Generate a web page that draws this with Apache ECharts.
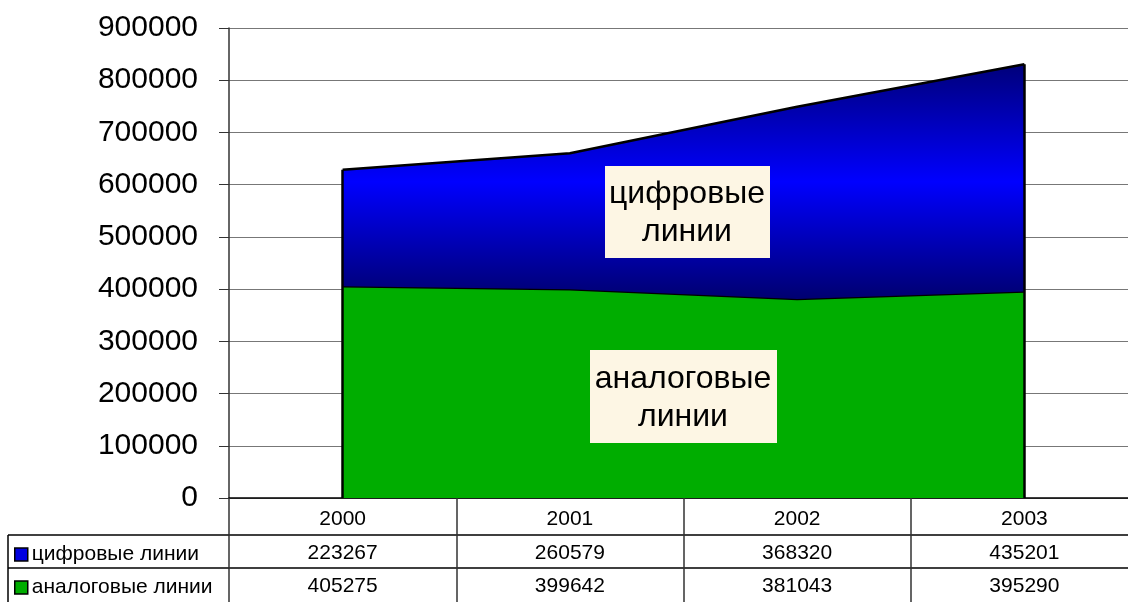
<!DOCTYPE html>
<html>
<head>
<meta charset="utf-8">
<script src="https://cdn.jsdelivr.net/npm/echarts@6/dist/echarts.min.js"></script>
<style>
html,body{margin:0;padding:0;background:#fff;}
#main{width:1128px;height:602px;}
</style>
</head>
<body>
<div id="main"></div>
<script>
const years = ['2000', '2001', '2002', '2003'];
const digital = [223267, 260579, 368320, 435201];
const analog = [405275, 399642, 381043, 395290];
const seriesNames = ['цифровые линии', 'аналоговые линии'];
const yTicks = { min: 0, max: 900000, interval: 100000 };

const FONT = '"Liberation Sans", Arial, sans-serif';
const totals = years.map((_, i) => digital[i] + analog[i]);
const first = years[0], last = years[years.length - 1];

const chart = echarts.init(document.getElementById('main'), null, { renderer: 'canvas' });

const tableAxis = (vals, offset) => ({
  type: 'category',
  data: vals.map(String),
  position: 'bottom',
  gridIndex: 0,
  offset: offset,
  boundaryGap: true,
  axisLine: { show: true, lineStyle: { color: '#000', width: 1.5 } },
  axisTick: { show: false },
  axisLabel: { color: '#000', fontSize: 21, fontFamily: FONT, margin: 8, interval: 0 },
  splitLine: { show: false }
});

const legendItem = (name, color, top) => ({
  orient: 'vertical',
  left: 9,
  top: top,
  itemWidth: 13,
  itemHeight: 13,
  data: [{ name: name, icon: 'rect', itemStyle: { color: color, borderColor: '#000', borderWidth: 1.5 } }],
  textStyle: { color: '#000', fontSize: 21, fontFamily: FONT, padding: [0, 0, 0, -1] },
  selectedMode: false
});

chart.setOption({
  backgroundColor: '#fff',
  animation: false,
  grid: { left: 229, top: 28, width: 909, height: 470, outerBoundsMode: 'none', containLabel: false },
  legend: [
    legendItem(seriesNames[0], '#0000e0', 539),
    legendItem(seriesNames[1], '#00ad00', 572)
  ],
  xAxis: [
    {
      type: 'category',
      data: years,
      boundaryGap: true,
      axisLine: { show: true, lineStyle: { color: '#000', width: 1.5 } },
      axisTick: { show: true, length: 104, interval: 0, lineStyle: { color: '#333', width: 1.5 } },
      axisLabel: { color: '#000', fontSize: 21, fontFamily: FONT, margin: 11, interval: 0 },
      splitLine: { show: false }
    },
    tableAxis(digital, 37),
    tableAxis(analog, 70)
  ],
  yAxis: {
    type: 'value',
    min: yTicks.min,
    max: yTicks.max,
    interval: yTicks.interval,
    axisLine: { show: true, lineStyle: { color: '#333', width: 1.5 } },
    axisTick: { show: true, length: 10, lineStyle: { color: '#333', width: 1 } },
    axisLabel: { color: '#000', fontSize: 30, fontFamily: FONT, margin: 31, formatter: v => String(v) },
    splitLine: { show: true, lineStyle: { color: '#777', width: 1 } }
  },
  series: [
    {
      name: seriesNames[1],
      type: 'line',
      stack: 'total',
      data: analog,
      symbol: 'none',
      lineStyle: { color: '#000', width: 2.5 },
      areaStyle: { color: '#00ad00', opacity: 1 },
      itemStyle: { color: '#00ad00' },
      z: 2
    },
    {
      name: seriesNames[0],
      type: 'line',
      stack: 'total',
      data: digital,
      symbol: 'none',
      lineStyle: { color: '#000', width: 2.5 },
      areaStyle: {
        opacity: 1,
        color: new echarts.graphic.LinearGradient(0, 0, 0, 1, [
          { offset: 0, color: '#00007a' },
          { offset: 0.5, color: '#0000ff' },
          { offset: 1, color: '#000070' }
        ])
      },
      itemStyle: { color: '#0000e0' },
      z: 3,
      markLine: {
        silent: true,
        symbol: 'none',
        label: { show: false },
        lineStyle: { color: '#000', width: 2.5, type: 'solid' },
        data: [
          [{ coord: [first, 0] }, { coord: [first, totals[0]] }],
          [{ coord: [last, 0] }, { coord: [last, totals[totals.length - 1]] }]
        ]
      }
    }
  ],
  graphic: [
    { type: 'line', shape: { x1: 8, y1: 535, x2: 229, y2: 535 }, style: { stroke: '#000', lineWidth: 1.5 } },
    { type: 'line', shape: { x1: 8, y1: 568, x2: 229, y2: 568 }, style: { stroke: '#000', lineWidth: 1.5 } },
    { type: 'line', shape: { x1: 8, y1: 535, x2: 8, y2: 602 }, style: { stroke: '#000', lineWidth: 1.5 } },
    { type: 'rect', shape: { x: 605, y: 166, width: 165, height: 92 }, style: { fill: '#fdf6e4' }, z: 10 },
    { type: 'text', x: 687, y: 213, style: { text: 'цифровые\nлинии', fill: '#000', font: '32px ' + FONT, align: 'center', verticalAlign: 'middle', lineHeight: 38 }, z: 11 },
    { type: 'rect', shape: { x: 590, y: 350, width: 187, height: 93 }, style: { fill: '#fdf6e4' }, z: 10 },
    { type: 'text', x: 683, y: 398, style: { text: 'аналоговые\nлинии', fill: '#000', font: '32px ' + FONT, align: 'center', verticalAlign: 'middle', lineHeight: 38 }, z: 11 }
  ]
});
</script>
</body>
</html>
